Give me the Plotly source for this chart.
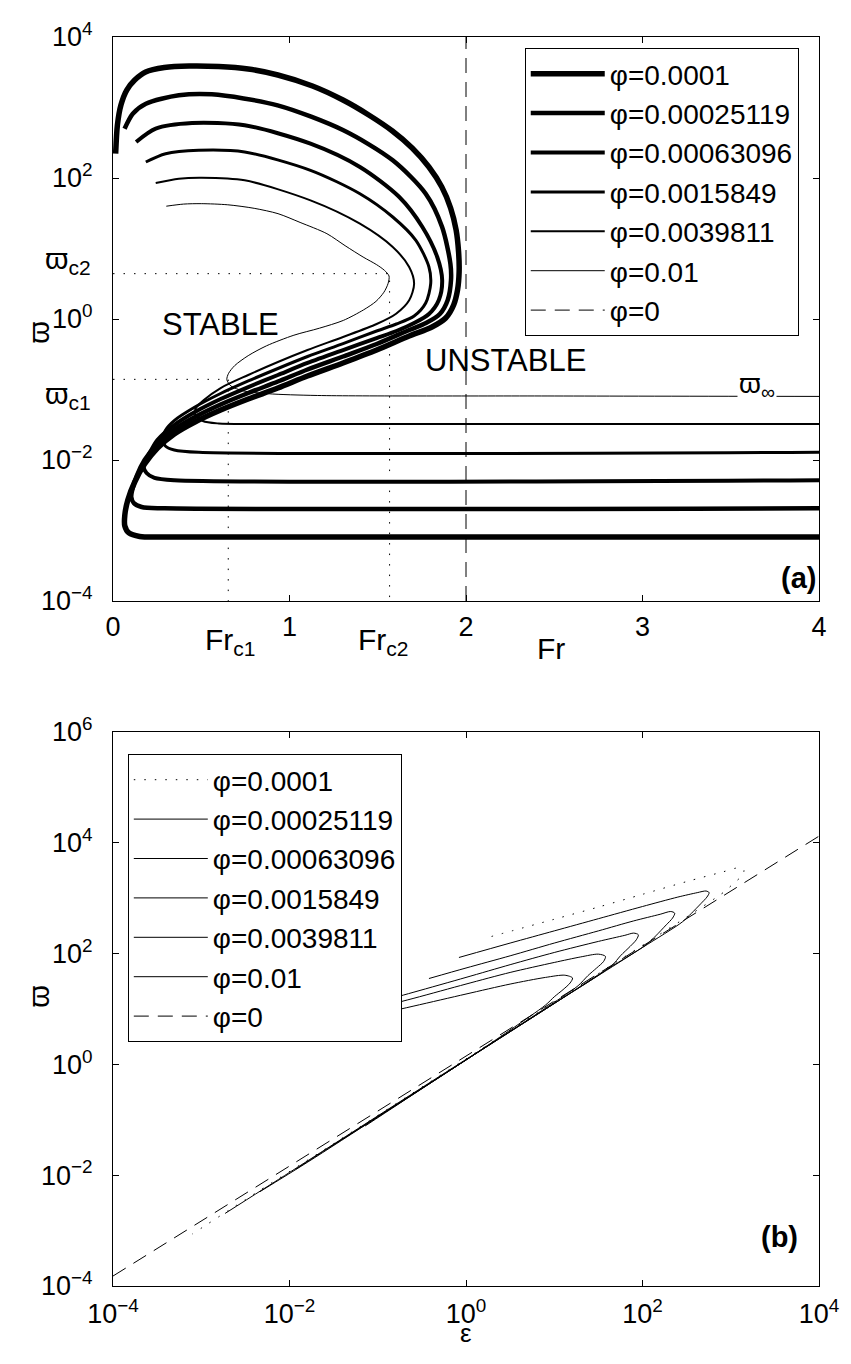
import numpy as np
import plotly.graph_objects as go

FONT = "Liberation Sans, Arial, Helvetica, sans-serif"

phi_names = ["φ=0.0001", "φ=0.00025119", "φ=0.00063096", "φ=0.0015849", "φ=0.0039811", "φ=0.01"]
phi0_name = "φ=0"

# ---------------- panel (a): Fr vs log10(varpi) ----------------
a1_fr = [0.015, 0.025, 0.045, 0.078, 0.123, 0.185, 0.291, 0.431, 0.599, 0.766, 0.934, 1.13, 1.303, 1.449, 1.583,
         1.695, 1.79, 1.863, 1.913, 1.944, 1.958, 1.961, 1.952, 1.930, 1.885, 1.807, 1.678, 1.494, 1.303, 1.102,
         0.934, 0.766, 0.610, 0.464, 0.347, 0.252, 0.179, 0.123, 0.084, 0.067, 0.067, 0.090, 0.151, 0.319, 4.0]
a1_lw = [2.345, 2.752, 3.035, 3.248, 3.39, 3.504, 3.567, 3.589, 3.582, 3.546, 3.461, 3.305, 3.106, 2.894, 2.667,
         2.426, 2.156, 1.872, 1.574, 1.262, 0.95, 0.667, 0.411, 0.199, 0.014, -0.113, -0.241, -0.440, -0.624, -0.809,
         -0.979, -1.135, -1.291, -1.461, -1.631, -1.830, -2.057, -2.312, -2.567, -2.780, -2.936, -3.035, -3.085, -3.092, -3.092]

a2_fr = [0.0655, 0.112, 0.1863, 0.3731, 0.5594, 0.9326, 1.3052, 1.5849, 1.7717, 1.8646, 1.9116, 1.915, 1.8965, 1.8517,
         1.7734, 1.6783, 1.4937, 1.3035, 1.1021, 0.9343, 0.7664, 0.6098, 0.4643, 0.3469, 0.2517, 0.179, 0.134, 0.109,
         0.1035, 0.1175, 0.1622, 0.2909, 4.0]
a2_lw = [2.699, 2.912, 3.054, 3.173, 3.187, 3.031, 2.677, 2.251, 1.777, 1.305, 0.784, 0.55, 0.270, 0.071,
         -0.057, -0.156, -0.355, -0.532, -0.716, -0.887, -1.050, -1.213, -1.390, -1.567, -1.773, -2.000, -2.227, -2.426,
         -2.525, -2.610, -2.667, -2.685, -2.685]

a3_fr = [0.131, 0.242, 0.448, 0.746, 1.119, 1.399, 1.622, 1.753, 1.837, 1.865, 1.8462, 1.7902, 1.7063, 1.6056, 1.4937,
         1.3035, 1.1021, 0.9343, 0.7664, 0.6098, 0.4643, 0.3469, 0.2517, 0.2014, 0.179, 0.1734, 0.190, 0.235, 0.3469, 4.0]
a3_lw = [2.511, 2.70, 2.78, 2.748, 2.487, 2.156, 1.73, 1.305, 0.879, 0.549, 0.270, 0.071, -0.057, -0.170, -0.270,
         -0.440, -0.624, -0.794, -0.965, -1.135, -1.319, -1.504, -1.716, -1.929, -2.043, -2.099, -2.184, -2.255, -2.288, -2.288]

a4_fr = [0.186, 0.298, 0.485, 0.746, 1.119, 1.399, 1.585, 1.716, 1.790, 1.800, 1.7717, 1.7063, 1.6056, 1.4937, 1.3035,
         1.1021, 0.9343, 0.7664, 0.6098, 0.4643, 0.3469, 0.2982, 0.2797, 0.2965, 0.3469, 0.4867, 4.0]
a4_lw = [2.227, 2.345, 2.393, 2.369, 2.109, 1.777, 1.447, 1.116, 0.738, 0.501, 0.227, 0.043, -0.071, -0.170, -0.348,
         -0.532, -0.702, -0.879, -1.057, -1.248, -1.440, -1.574, -1.716, -1.801, -1.858, -1.891, -1.891]

a5_fr = [0.242, 0.373, 0.503, 0.746, 1.119, 1.399, 1.585, 1.678, 1.706, 1.678, 1.604, 1.4937, 1.3035, 1.1021, 0.9343,
         0.7664, 0.6098, 0.5147, 0.470, 0.4643, 0.5091, 0.5986, 0.8224, 4.0]
a5_lw = [1.929, 1.99, 2.004, 1.967, 1.683, 1.352, 1.021, 0.738, 0.501, 0.265, 0.075, -0.071, -0.255, -0.440, -0.610,
         -0.794, -0.979, -1.149, -1.262, -1.348, -1.447, -1.482, -1.489, -1.489]

a6_fr = [0.302, 0.40, 0.50, 0.65, 0.80, 0.935, 1.06, 1.212, 1.315, 1.417, 1.494, 1.538, 1.564, 1.558, 1.535, 1.49, 1.42,
         1.305, 1.17, 1.025, 0.87, 0.766, 0.69, 0.655, 0.645, 0.668, 0.74, 0.88, 1.16, 2.5, 4.0]
a6_lw = [1.60, 1.63, 1.636, 1.62, 1.57, 1.494, 1.37, 1.21, 1.04, 0.879, 0.77, 0.69, 0.61, 0.50, 0.38, 0.25, 0.13,
         -0.02, -0.13, -0.23, -0.38, -0.52, -0.66, -0.77, -0.86, -0.95, -1.02, -1.06, -1.085, -1.092, -1.098]

# phi = 0 : Fr = 2
a0_fr = [2.0, 2.0]
a0_w = [1e-4, 1e4]

# critical points
fr_c1, lw_c1 = 0.653, -0.856
fr_c2, lw_c2 = 1.567, 0.643

# ---------------- panel (b): log10(eps) vs log10(varpi) ----------------
b0_le = [-4.0, 4.0]
b0_lw = [-3.82, 4.12]

b1_le = [0.29, 1.0, 1.5, 2.0, 2.5, 2.9, 3.1, 3.15, 3.11, 3.02, 2.93, 2.5, 1.5, 0.0, -1.5, -2.5, -3.1]
b1_lw = [2.31, 2.62, 2.84, 3.07, 3.30, 3.47, 3.55, 3.50, 3.38, 3.25, 3.12, 2.66, 1.64, 0.10, -1.43, -2.44, -3.06]

b2_le = [-0.08, 0.5, 1.0, 1.5, 2.0, 2.4, 2.62, 2.72, 2.755, 2.73, 2.66, 2.55, 2.45, 2.0, 1.0, 0.0, -1.0, -2.0, -2.73]
b2_lw = [1.93, 2.19, 2.41, 2.63, 2.85, 3.02, 3.10, 3.13, 3.10, 3.02, 2.90, 2.72, 2.57, 2.11, 1.10, 0.09, -0.93, -1.95, -2.69]

b3_le = [-0.42, 0.0, 0.5, 1.0, 1.5, 1.9, 2.2, 2.32, 2.365, 2.34, 2.27, 2.15, 2.05, 1.5, 1.0, 0.0, -1.0, -1.8, -2.336]
b3_lw = [1.55, 1.74, 1.96, 2.19, 2.41, 2.59, 2.71, 2.76, 2.73, 2.64, 2.52, 2.32, 2.17, 1.62, 1.10, 0.08, -0.95, -1.77, -2.298]

b4_le = [-1.3, -0.6, 0.0, 0.5, 1.0, 1.5, 1.8, 1.90, 1.953, 1.93, 1.86, 1.75, 1.65, 1.0, 0.0, -1.0, -1.927]
b4_lw = [0.99, 1.30, 1.57, 1.80, 2.02, 2.22, 2.33, 2.37, 2.34, 2.25, 2.13, 1.96, 1.78, 1.10, 0.08, -0.94, -1.888]

b5_le = [-1.6, -0.6, 0.0, 0.5, 1.0, 1.3, 1.50, 1.58, 1.56, 1.48, 1.38, 1.27, 1.0, 0.0, -1.0, -1.538]
b5_lw = [0.78, 1.19, 1.45, 1.66, 1.84, 1.94, 1.99, 1.95, 1.86, 1.74, 1.60, 1.42, 1.12, 0.08, -0.95, -1.486]

b6_le = [-1.8, -0.6, 0.0, 0.5, 0.9, 1.12, 1.207, 1.18, 1.10, 1.0, 0.9, 0.5, 0.0, -0.5, -1.143]
b6_lw = [0.62, 1.05, 1.27, 1.45, 1.57, 1.61, 1.56, 1.47, 1.35, 1.22, 1.07, 0.62, 0.08, -0.44, -1.112]

# tick labels
a_xticks = [0, 1, 2, 3, 4]
a_yticks_exp = [-4, -2, 0, 2, 4]
b_xticks_exp = [-4, -2, 0, 2, 4]
b_yticks_exp = [-4, -2, 0, 2, 4, 6]


def sup(e):
    return "10<sup>" + str(e).replace("-", "−") + "</sup>"


# ---------------- styles ----------------
a_widths = [5.5, 4.5, 4, 3, 2, 1]
DASH = "15px,9px"
DOT = "1.5px,9px"

fig = go.Figure()

a_fr_all = [a1_fr, a2_fr, a3_fr, a4_fr, a5_fr, a6_fr]
a_lw_all = [a1_lw, a2_lw, a3_lw, a4_lw, a5_lw, a6_lw]

# reference dotted lines (panel a)
fig.add_trace(go.Scatter(x=[0, fr_c2, fr_c2], y=[10 ** lw_c2, 10 ** lw_c2, 1e-4], mode="lines",
                         line=dict(color="black", width=1, dash=DOT), showlegend=False, hoverinfo="skip",
                         xaxis="x", yaxis="y"))
fig.add_trace(go.Scatter(x=[0, fr_c1, fr_c1], y=[10 ** lw_c1, 10 ** lw_c1, 1e-4], mode="lines",
                         line=dict(color="black", width=1, dash=DOT), showlegend=False, hoverinfo="skip",
                         xaxis="x", yaxis="y"))

for i in range(6):
    fig.add_trace(go.Scatter(x=a_fr_all[i], y=10 ** np.array(a_lw_all[i]), mode="lines",
                             line=dict(color="black", width=a_widths[i], shape="spline", smoothing=0.8),
                             name=phi_names[i], legend="legend", xaxis="x", yaxis="y"))
fig.add_trace(go.Scatter(x=a0_fr, y=a0_w, mode="lines", line=dict(color="black", width=1, dash=DASH),
                         name=phi0_name, legend="legend", xaxis="x", yaxis="y"))

b_le_all = [b1_le, b2_le, b3_le, b4_le, b5_le, b6_le]
b_lw_all = [b1_lw, b2_lw, b3_lw, b4_lw, b5_lw, b6_lw]
for i in range(6):
    fig.add_trace(go.Scatter(x=10 ** np.array(b_le_all[i]), y=10 ** np.array(b_lw_all[i]), mode="lines",
                             line=dict(color="black", width=1, shape="spline", smoothing=0.8,
                                       dash=(DOT if i == 0 else "solid")),
                             name=phi_names[i], legend="legend2", xaxis="x2", yaxis="y2"))
fig.add_trace(go.Scatter(x=10 ** np.array(b0_le), y=10 ** np.array(b0_lw), mode="lines",
                         line=dict(color="black", width=1, dash=DASH),
                         name=phi0_name, legend="legend2", xaxis="x2", yaxis="y2"))

W, H = 851, 1364
L, R, T, B = 113, 23, 37, 78
PH = H - T - B  # 1249
PW = W - L - R  # 715


def px_to_paper_x(px):
    return (px - L) / PW


def px_to_paper_y(py):
    return (H - B - py) / PH


axis_common = dict(showline=True, linecolor="black", linewidth=1, mirror="ticks", ticks="inside", ticklen=6,
                   tickwidth=1, tickcolor="black", showgrid=False, zeroline=False,
                   tickfont=dict(family=FONT, size=27, color="black"))

legend_common = dict(bgcolor="white", bordercolor="black", borderwidth=1,
                     font=dict(family=FONT, size=28, color="black"), itemwidth=74, tracegroupgap=0,
                     xanchor="left", yanchor="top", traceorder="normal")

fig.update_layout(
    width=W, height=H, margin=dict(l=L, r=R, t=T, b=B), paper_bgcolor="white", plot_bgcolor="white",
    font=dict(family=FONT, color="black"),
    xaxis=dict(domain=[0, 1], anchor="y", range=[0, 4], tickvals=a_xticks, ticktext=[str(v) for v in a_xticks],
               ticklabelstandoff=2, **axis_common),
    yaxis=dict(domain=[px_to_paper_y(601), 1], anchor="x", type="log", range=[-4, 4],
               tickvals=[10.0 ** e for e in a_yticks_exp], ticktext=[sup(e) for e in a_yticks_exp],
               ticklabelstandoff=14, **axis_common),
    xaxis2=dict(domain=[0, 1], anchor="y2", type="log", range=[-4, 4],
                tickvals=[10.0 ** e for e in b_xticks_exp], ticktext=[sup(e) for e in b_xticks_exp],
                ticklabelstandoff=4, **axis_common),
    yaxis2=dict(domain=[0, px_to_paper_y(732)], anchor="x2", type="log", range=[-4, 6],
                tickvals=[10.0 ** e for e in b_yticks_exp], ticktext=[sup(e) for e in b_yticks_exp],
                ticklabelstandoff=14, **axis_common),
    legend=dict(x=px_to_paper_x(530), y=px_to_paper_y(48), **legend_common),
    legend2=dict(x=px_to_paper_x(128), y=px_to_paper_y(754), **legend_common),
    showlegend=True,
)

ann = []
tf = dict(family=FONT, color="black")
ann.append(dict(text="STABLE", x=0.61, y=-0.071, xref="x", yref="y", showarrow=False, font=dict(size=31, **tf)))
ann.append(dict(text="UNSTABLE", x=2.221, y=-0.582, xref="x", yref="y", showarrow=False, font=dict(size=31, **tf)))
ann.append(dict(text="ϖ<sub>∞</sub>", x=3.648, y=-0.94, xref="x", yref="y", showarrow=False, bgcolor="white",
                font=dict(size=28, **tf)))
ann.append(dict(text="ϖ<sub>c2</sub>", x=px_to_paper_x(93), xanchor="right", y=0.823, xref="paper", yref="y",
                showarrow=False, font=dict(size=30, **tf)))
ann.append(dict(text="ϖ<sub>c1</sub>", x=px_to_paper_x(93), xanchor="right", y=-1.092, xref="paper", yref="y",
                showarrow=False, font=dict(size=30, **tf)))
ann.append(dict(text="Fr<sub>c1</sub>", x=0.666, y=px_to_paper_y(641), xref="x", yref="paper", showarrow=False,
                font=dict(size=30, **tf)))
ann.append(dict(text="Fr<sub>c2</sub>", x=1.533, y=px_to_paper_y(641), xref="x", yref="paper", showarrow=False,
                font=dict(size=30, **tf)))
ann.append(dict(text="Fr", x=2.484, y=px_to_paper_y(648), xref="x", yref="paper", showarrow=False,
                font=dict(size=30, **tf)))
ann.append(dict(text="<b>(a)</b>", x=px_to_paper_x(827), xanchor="right", y=px_to_paper_y(578), xref="paper",
                yref="paper", showarrow=False, font=dict(size=29, **tf)))
ann.append(dict(text="<b>(b)</b>", x=px_to_paper_x(809), xanchor="right", y=px_to_paper_y(1255), xref="paper",
                yref="paper", showarrow=False, font=dict(size=29, **tf)))
ann.append(dict(text="ε", x=px_to_paper_x(471), y=px_to_paper_y(1350), xref="paper", yref="paper",
                showarrow=False, font=dict(size=26, **tf)))
ann.append(dict(text="ϖ", x=px_to_paper_x(19), y=px_to_paper_y(319), xref="paper", yref="paper",
                showarrow=False, textangle=-90, font=dict(size=29, **tf)))
ann.append(dict(text="ϖ", x=px_to_paper_x(19), y=px_to_paper_y(1010), xref="paper", yref="paper",
                showarrow=False, textangle=-90, font=dict(size=29, **tf)))
fig.update_layout(annotations=ann)

fig.write_html("out.html")
